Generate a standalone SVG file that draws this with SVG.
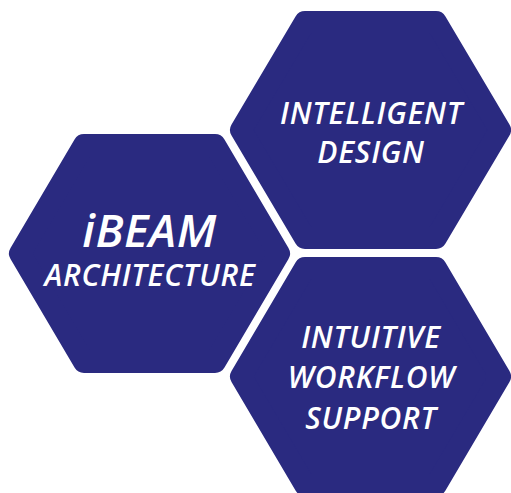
<svg xmlns="http://www.w3.org/2000/svg" width="511" height="493" viewBox="0 0 511 493">
<style>
.hex{fill:#2a2a80;stroke:#2a2a80;stroke-width:22;stroke-linejoin:round}
text{font-family:"Open Sans","Noto Sans",sans-serif;font-style:italic;font-weight:600;fill:#fff;text-anchor:middle}
.s{font-size:30px;letter-spacing:.75px}
.b{font-size:46px;letter-spacing:.5px}
</style>
<rect width="511" height="493" fill="#fff"/>
<g id="node-ibeam">
<polygon class="hex" points="20,253.500 84,145 215,145 279,253.500 215,362 84,362"/>
<text class="b" x="149.500" y="247">iBEAM</text>
<text class="s" x="150" y="286">ARCHITECTURE</text>
</g>
<g id="node-intelligent">
<polygon class="hex" points="241,130 305,22 436,22 500,130 436,238 305,238"/>
<text class="s" x="371.500" y="124">INTELLIGENT</text>
<text class="s" x="371" y="163">DESIGN</text>
</g>
<g id="node-intuitive">
<polygon class="hex" points="241,376.500 305,268 436,268 500,376.500 436,485 305,485"/>
<text class="s" x="371" y="348">INTUITIVE</text>
<text class="s" x="371.500" y="388">WORKFLOW</text>
<text class="s" x="371" y="429">SUPPORT</text>
</g>
<g id="connectors"/>
</svg>
